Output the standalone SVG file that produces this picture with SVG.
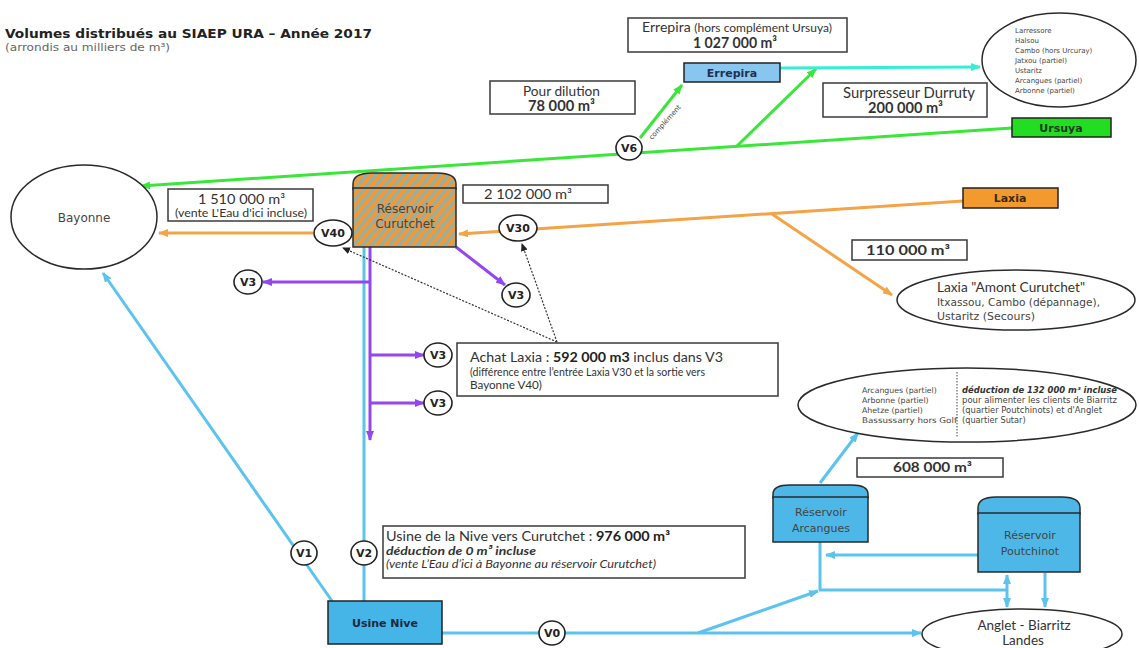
<svg xmlns="http://www.w3.org/2000/svg" width="1139" height="648" viewBox="0 0 1139 648">
<style>
.bx{fill:#fff;stroke:#3a3a3a;stroke-width:1.5}
.el{fill:#fff;stroke:#2a2a2a;stroke-width:1.5}
.vc{fill:#fff;stroke:#222;stroke-width:1.6}
.vt{font-family:"DejaVu Sans",sans-serif;font-weight:bold;font-size:11px;fill:#222;text-anchor:middle}
.cal{font-family:Lato,"Liberation Sans",sans-serif;fill:#333}
.ver{font-family:"DejaVu Sans","Liberation Sans",sans-serif;fill:#444}
.mid{text-anchor:middle}
.b{font-weight:bold}
.nd{stroke:#222;stroke-width:1.5}
.green{stroke:#3be63b;stroke-width:3;fill:none}
.cyan{stroke:#36efd2;stroke-width:3;fill:none}
.orange{stroke:#f4a346;stroke-width:3;fill:none}
.purple{stroke:#9447ee;stroke-width:3;fill:none}
.blue{stroke:#5cc3ee;stroke-width:3;fill:none}
.dot{stroke:#333;stroke-width:1.2;stroke-dasharray:2 1.5;fill:none}
.tank{stroke:#2a2a2a;stroke-width:1.5}
</style>
<defs>
<marker id="ag" markerUnits="userSpaceOnUse" markerWidth="10" markerHeight="8" refX="9" refY="4" orient="auto"><path d="M0,0 L10,4 L0,8 z" fill="#3be63b"/></marker>
<marker id="ac" markerUnits="userSpaceOnUse" markerWidth="10" markerHeight="8" refX="9" refY="4" orient="auto"><path d="M0,0 L10,4 L0,8 z" fill="#36efd2"/></marker>
<marker id="ao" markerUnits="userSpaceOnUse" markerWidth="10" markerHeight="8" refX="9" refY="4" orient="auto"><path d="M0,0 L10,4 L0,8 z" fill="#f4a346"/></marker>
<marker id="ap" markerUnits="userSpaceOnUse" markerWidth="10" markerHeight="8" refX="9" refY="4" orient="auto"><path d="M0,0 L10,4 L0,8 z" fill="#9447ee"/></marker>
<marker id="ab" markerUnits="userSpaceOnUse" markerWidth="10" markerHeight="8" refX="9" refY="4" orient="auto"><path d="M0,0 L10,4 L0,8 z" fill="#5cc3ee"/></marker>
<marker id="abs" markerUnits="userSpaceOnUse" markerWidth="10" markerHeight="8" refX="1" refY="4" orient="auto"><path d="M10,0 L0,4 L10,8 z" fill="#5cc3ee"/></marker>
<marker id="ak" markerUnits="userSpaceOnUse" markerWidth="8" markerHeight="7" refX="7" refY="3.5" orient="auto"><path d="M0,0 L8,3.5 L0,7 z" fill="#222"/></marker>
<pattern id="hatch" patternUnits="userSpaceOnUse" width="7" height="7" patternTransform="rotate(40)">
<rect width="7" height="7" fill="#ee9a3c"/>
<rect width="2.6" height="7" fill="#86b3b3"/>
</pattern>
</defs>

<g id="title">
<text x="5" y="38" font-family="DejaVu Sans,sans-serif" font-weight="bold" font-size="13" fill="#222" textLength="367" lengthAdjust="spacingAndGlyphs">Volumes distribués au SIAEP URA – Année 2017</text>
<text x="5" y="51" font-family="DejaVu Sans,sans-serif" font-size="10.5" fill="#666" textLength="165" lengthAdjust="spacingAndGlyphs">(arrondis au milliers de m³)</text>
</g>

<g id="connectors">
<line class="green" x1="1012" y1="128" x2="141" y2="186" marker-end="url(#ag)"/>
<line class="green" x1="737" y1="146" x2="816" y2="69" marker-end="url(#ag)"/>
<line class="green" x1="640" y1="138" x2="682" y2="85" marker-end="url(#ag)"/>
<line class="cyan" x1="780" y1="68" x2="980" y2="67" marker-end="url(#ac)"/>
<line class="orange" x1="963" y1="201" x2="459" y2="234" marker-end="url(#ao)"/>
<line class="orange" x1="313" y1="233" x2="159" y2="233" marker-end="url(#ao)"/>
<line class="orange" x1="772" y1="214" x2="892" y2="295" marker-end="url(#ao)"/>
<line class="blue" x1="364" y1="601" x2="364" y2="247"/>
<line class="purple" x1="370" y1="247" x2="370" y2="440" marker-end="url(#ap)"/>
<line class="purple" x1="370" y1="282" x2="263" y2="282" marker-end="url(#ap)"/>
<line class="purple" x1="370" y1="355" x2="424" y2="355" marker-end="url(#ap)"/>
<line class="purple" x1="370" y1="403" x2="424" y2="403" marker-end="url(#ap)"/>
<line class="purple" x1="456" y1="247" x2="505" y2="285" marker-end="url(#ap)"/>
<line class="blue" x1="332" y1="601" x2="103" y2="273" marker-end="url(#ab)"/>
<line class="blue" x1="442" y1="633" x2="921" y2="633" marker-end="url(#ab)"/>
<line class="blue" x1="698" y1="633" x2="818" y2="591" marker-end="url(#ab)"/>
<line class="blue" x1="820" y1="483" x2="858" y2="433" marker-end="url(#ab)"/>
<line class="blue" x1="820" y1="542" x2="820" y2="590"/>
<line class="blue" x1="819" y1="590" x2="1007" y2="590"/>
<line class="blue" x1="978" y1="555" x2="826" y2="555" marker-end="url(#ab)"/>
<line class="blue" x1="1007" y1="575" x2="1007" y2="607" marker-start="url(#abs)" marker-end="url(#ab)"/>
<line class="blue" x1="1045" y1="573" x2="1045" y2="607" marker-end="url(#ab)"/>
<line class="dot" x1="557" y1="342" x2="343" y2="248" marker-end="url(#ak)"/>
<line class="dot" x1="557" y1="342" x2="522" y2="244" marker-end="url(#ak)"/>
<text class="ver" font-size="7" fill="#555" transform="translate(652,140) rotate(-48)">complément</text>
</g>

<g id="errepira-info">
<rect class="bx" x="628" y="18" width="219" height="34"/>
<text class="cal" x="642" y="32" font-size="13.5" fill="#444" textLength="190" lengthAdjust="spacingAndGlyphs">Errepira  <tspan font-size="11.5">(hors complément Ursuya)</tspan></text>
<text class="cal b" x="693" y="48" font-size="14.5" textLength="84" lengthAdjust="spacingAndGlyphs">1 027 000 m³</text>
</g>
<g id="errepira">
<rect class="nd" x="684" y="63" width="96" height="19" fill="#88c6ef"/>
<text class="mid" x="732" y="77" font-family="DejaVu Sans,sans-serif" font-weight="bold" font-size="11" fill="#1f3050">Errepira</text>
</g>
<g id="dilution">
<rect class="bx" x="490" y="81" width="145" height="33"/>
<text class="cal" x="523" y="96" font-size="13.5" fill="#444" textLength="77" lengthAdjust="spacingAndGlyphs">Pour dilution</text>
<text class="cal b" x="528" y="111" font-size="14.5" textLength="67" lengthAdjust="spacingAndGlyphs">78 000 m³</text>
</g>
<g id="surpresseur">
<rect class="bx" x="823" y="83" width="164" height="34"/>
<text class="cal" x="843" y="98" font-size="14.5" fill="#444" textLength="132" lengthAdjust="spacingAndGlyphs">Surpresseur Durruty</text>
<text class="cal b" x="868" y="113" font-size="14.5" textLength="75" lengthAdjust="spacingAndGlyphs">200 000 m³</text>
</g>
<g id="communes-errepira">
<ellipse class="el" cx="1059" cy="60" rx="77" ry="47"/>
<text class="ver" font-size="7">
<tspan x="1015" y="33">Larressore</tspan>
<tspan x="1015" y="43">Halsou</tspan>
<tspan x="1015" y="53">Cambo (hors Urcuray)</tspan>
<tspan x="1015" y="63">Jatxou (partiel)</tspan>
<tspan x="1015" y="73">Ustaritz</tspan>
<tspan x="1015" y="83">Arcangues (partiel)</tspan>
<tspan x="1015" y="93">Arbonne (partiel)</tspan>
</text>
</g>
<g id="ursuya">
<rect class="nd" x="1012" y="118" width="99" height="19" fill="#22dd22"/>
<text class="mid" x="1061" y="132" font-family="DejaVu Sans,sans-serif" font-weight="bold" font-size="11" fill="#1a3a1a">Ursuya</text>
</g>
<g id="bayonne">
<ellipse class="el" cx="84" cy="217" rx="73" ry="52"/>
<text class="ver mid" x="84" y="222" font-size="12">Bayonne</text>
</g>
<g id="vol-bayonne">
<rect class="bx" x="168" y="189" width="145" height="32"/>
<text class="cal" x="198" y="204" font-size="13.5" fill="#444" textLength="87" lengthAdjust="spacingAndGlyphs">1 510 000 m³</text>
<text class="cal" x="175" y="217" font-size="12" fill="#444" textLength="132" lengthAdjust="spacingAndGlyphs">(vente L'Eau d'ici incluse)</text>
</g>
<g id="curutchet">
<path class="tank" d="M353,189 L353,184 Q353,173 372,173 L437,173 Q456,173 456,184 L456,189 Z" fill="url(#hatch)"/>
<rect class="tank" x="353" y="188" width="103" height="59" fill="url(#hatch)"/>
<text class="ver mid" x="405" y="213" font-size="12" fill="#5a4030">Réservoir</text>
<text class="ver mid" x="405" y="228" font-size="12" fill="#5a4030">Curutchet</text>
</g>
<g id="vol-curutchet">
<rect class="bx" x="463" y="185" width="145" height="18"/>
<text class="cal" x="484" y="199" font-size="13.5" fill="#444" textLength="88" lengthAdjust="spacingAndGlyphs">2 102 000 m³</text>
</g>
<g id="laxia">
<rect class="nd" x="963" y="188" width="95" height="20" fill="#f39a2e"/>
<text class="mid" x="1010" y="202" font-family="DejaVu Sans,sans-serif" font-weight="bold" font-size="11" fill="#3a2a10">Laxia</text>
</g>
<g id="vol-laxia">
<rect class="bx" x="852" y="240" width="115" height="20"/>
<text class="cal b" x="866" y="255" font-size="14" textLength="84" lengthAdjust="spacingAndGlyphs">110 000 m³</text>
</g>
<g id="laxia-amont">
<ellipse class="el" cx="1016" cy="300" rx="119" ry="30"/>
<text class="cal" x="937" y="292" font-size="13" textLength="148" lengthAdjust="spacingAndGlyphs">Laxia  "Amont Curutchet"</text>
<text class="ver" x="937" y="306" font-size="10.5" textLength="163" lengthAdjust="spacingAndGlyphs">Itxassou, Cambo (dépannage),</text>
<text class="ver" x="937" y="320" font-size="10.5" textLength="98" lengthAdjust="spacingAndGlyphs">Ustaritz (Secours)</text>
</g>
<g id="achat-laxia">
<rect class="bx" x="457" y="343" width="321" height="53"/>
<text class="cal" x="470" y="362" font-size="13.5" fill="#444" textLength="253" lengthAdjust="spacingAndGlyphs">Achat Laxia  : <tspan class="b" fill="#222">592 000 m3</tspan> inclus  dans V3</text>
<text class="cal" x="470" y="376" font-size="10.5" fill="#444" textLength="235" lengthAdjust="spacingAndGlyphs">(différence entre l’entrée Laxia V30 et la sortie vers</text>
<text class="cal" x="470" y="389" font-size="10.5" fill="#444" textLength="72" lengthAdjust="spacingAndGlyphs">Bayonne V40)</text>
</g>
<g id="communes-arcangues">
<ellipse class="el" cx="967" cy="405" rx="169" ry="37"/>
<line x1="957" y1="372" x2="957" y2="437" stroke="#444" stroke-width="1" stroke-dasharray="1.5 1.5"/>
<text class="ver" font-size="7.8">
<tspan x="862" y="393">Arcangues (partiel)</tspan>
<tspan x="862" y="403">Arbonne (partiel)</tspan>
<tspan x="862" y="413">Ahetze (partiel)</tspan>
<tspan x="862" y="423" textLength="95" lengthAdjust="spacingAndGlyphs">Bassussarry hors Golf</tspan>
</text>
<text class="ver" font-size="8.2">
<tspan x="962" y="393" font-weight="bold" font-style="italic" fill="#333" textLength="155" lengthAdjust="spacingAndGlyphs">déduction de 132 000 m³ incluse</tspan>
<tspan x="962" y="403" textLength="155" lengthAdjust="spacingAndGlyphs">pour alimenter les clients de Biarritz</tspan>
<tspan x="962" y="413" textLength="140" lengthAdjust="spacingAndGlyphs">(quartier Poutchinots) et d'Anglet</tspan>
<tspan x="962" y="423">(quartier Sutar)</tspan>
</text>
</g>
<g id="vol-arcangues">
<rect class="bx" x="857" y="458" width="146" height="19"/>
<text class="cal b" x="893" y="472" font-size="14" textLength="79" lengthAdjust="spacingAndGlyphs">608 000 m³</text>
</g>
<g id="arcangues">
<path class="tank" d="M773,498 L773,494 Q773,485 790,485 L851,485 Q868,485 868,494 L868,498 Z" fill="#4db8e8"/>
<rect class="tank" x="773" y="497" width="95" height="45" fill="#4db8e8"/>
<text class="ver mid" x="821" y="516" font-size="11" fill="#1f3550">Réservoir</text>
<text class="ver mid" x="821" y="532" font-size="11" fill="#1f3550">Arcangues</text>
</g>
<g id="poutchinot">
<path class="tank" d="M978,514 L978,508 Q978,497 996,497 L1062,497 Q1080,497 1080,508 L1080,514 Z" fill="#4db8e8"/>
<rect class="tank" x="978" y="513" width="102" height="59" fill="#4db8e8"/>
<text class="ver mid" x="1030" y="539" font-size="11" fill="#1f3550">Réservoir</text>
<text class="ver mid" x="1030" y="555" font-size="11" fill="#1f3550">Poutchinot</text>
</g>
<g id="usine-info">
<rect class="bx" x="383" y="526" width="362" height="52"/>
<text class="cal" x="386" y="541" font-size="13.5" fill="#444" textLength="284" lengthAdjust="spacingAndGlyphs">Usine de la  Nive vers Curutchet : <tspan class="b" fill="#222">976 000 m³</tspan></text>
<text class="cal b" x="386" y="555" font-size="12" font-style="italic" fill="#222" textLength="150" lengthAdjust="spacingAndGlyphs">déduction de 0 m³ incluse</text>
<text class="cal" x="386" y="568" font-size="11" font-style="italic" fill="#555" textLength="270" lengthAdjust="spacingAndGlyphs">(vente L’Eau d’ici à Bayonne au réservoir Curutchet)</text>
</g>
<g id="usine-nive">
<rect class="nd" x="328" y="601" width="114" height="43" fill="#45b4e6"/>
<text class="mid" x="385" y="627" font-family="DejaVu Sans,sans-serif" font-weight="bold" font-size="11" fill="#1a2a40">Usine Nive</text>
</g>
<g id="anglet">
<ellipse class="el" cx="1022" cy="634" rx="100" ry="25"/>
<text class="cal mid" x="1024" y="630" font-size="13.5" fill="#444">Anglet  -  Biarritz</text>
<text class="cal mid" x="1023" y="645" font-size="13.5" fill="#444">Landes</text>
</g>

<g id="v40"><ellipse class="vc" cx="333" cy="233" rx="19" ry="13"/><text class="vt" x="333" y="237">V40</text></g>
<g id="v30"><ellipse class="vc" cx="518" cy="228" rx="19" ry="13"/><text class="vt" x="518" y="232">V30</text></g>
<g id="v3a"><ellipse class="vc" cx="248" cy="282" rx="14" ry="12"/><text class="vt" x="248" y="286">V3</text></g>
<g id="v3b"><ellipse class="vc" cx="516" cy="295" rx="14" ry="12"/><text class="vt" x="516" y="299">V3</text></g>
<g id="v3c"><ellipse class="vc" cx="438" cy="355" rx="14" ry="12"/><text class="vt" x="438" y="359">V3</text></g>
<g id="v3d"><ellipse class="vc" cx="438" cy="403" rx="14" ry="12"/><text class="vt" x="438" y="407">V3</text></g>
<g id="v6"><ellipse class="vc" cx="629" cy="148" rx="13" ry="12"/><text class="vt" x="629" y="152">V6</text></g>
<g id="v1"><ellipse class="vc" cx="304" cy="553" rx="13" ry="12"/><text class="vt" x="304" y="557">V1</text></g>
<g id="v2"><ellipse class="vc" cx="364" cy="553" rx="13" ry="12"/><text class="vt" x="364" y="557">V2</text></g>
<g id="v0"><ellipse class="vc" cx="552" cy="633" rx="13" ry="12"/><text class="vt" x="552" y="637">V0</text></g>
</svg>
